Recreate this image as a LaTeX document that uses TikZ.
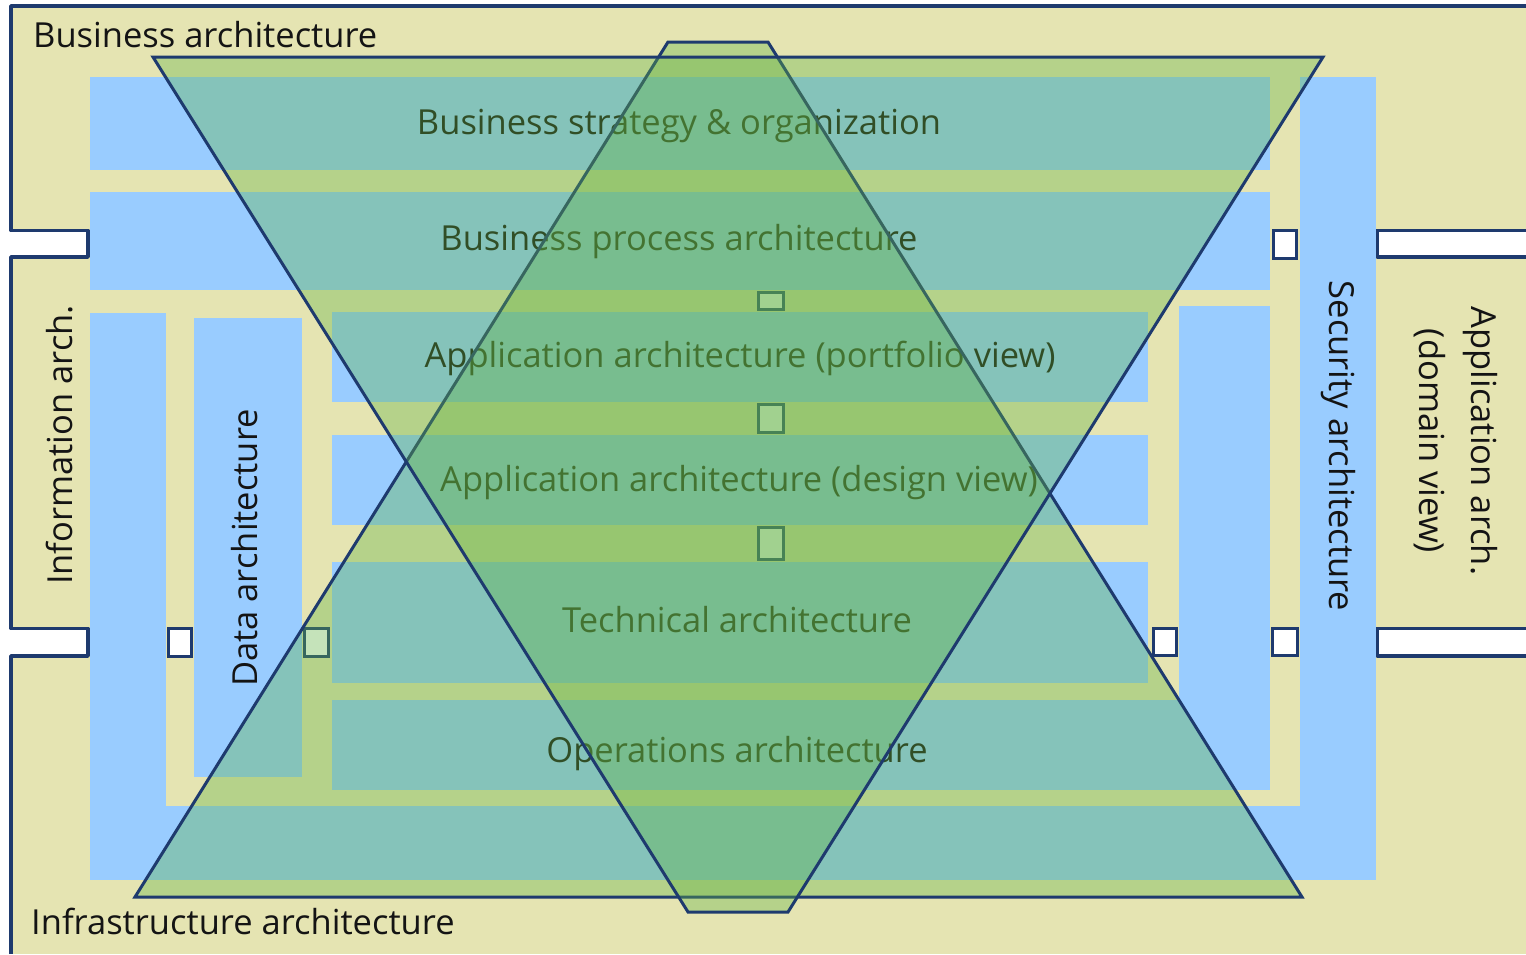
\documentclass[tikz,border=0pt]{standalone}
\usepackage{fontspec}
\setmainfont{Open Sans}
\usetikzlibrary{positioning}

\definecolor{beige}{RGB}{229,228,178}
\definecolor{skyblue}{RGB}{153,204,255}
\definecolor{navy}{RGB}{30,58,110}
\definecolor{leaf}{RGB}{100,180,70}
\definecolor{ink}{RGB}{20,20,20}

\tikzset{
	lbl/.style={font=\fontsize{34.5}{52}\selectfont, text=ink, inner sep=0pt},
	area/.style={fill=skyblue},
	frame/.style={draw=navy, line width=3.5pt, line join=round},
	port/.style={draw=navy, fill=white, line width=3pt},
	funnel/.style={draw=navy, line width=3pt, line join=miter, fill=leaf, fill opacity=0.37}
}

\begin{document}
\begin{tikzpicture}[x=1pt, y=-1pt]
		\useasboundingbox (0,0) rectangle (1526,954);
		\fill[white] (0,0) rectangle (1526,954);
		\fill[beige] (11,6) rectangle (1526,954);
		\fill[white] (0,230.5) rectangle (88,257);
		\fill[white] (0,628.5) rectangle (88,656);
		\fill[white] (1377,230.5) rectangle (1526,257);
		\fill[white] (1377,628.5) rectangle (1526,656);
		\draw[frame] (11,954) -- (11,656) -- (88,656) -- (88,628.5) -- (11,628.5) -- (11,257) -- (88,257) -- (88,230.5) -- (11,230.5) -- (11,6) -- (1526,6);
		\draw[frame] (1526,230.5) -- (1377,230.5) -- (1377,257) -- (1526,257);
		\draw[frame] (1526,628.5) -- (1377,628.5) -- (1377,656) -- (1526,656);

		\fill[area] (90,77) rectangle (1270,170);
		\fill[area] (90,192) rectangle (1270,290);
		\fill[area] (90,313) rectangle (166,880);
		\fill[area] (90,806) rectangle (1376,880);
		\fill[area] (1300,77) rectangle (1376,880);
		\fill[area] (194,318) rectangle (302,777);
		\fill[area] (1179,306) rectangle (1270,790);
		\fill[area] (332,312) rectangle (1148,402);
		\fill[area] (332,435) rectangle (1148,525);
		\fill[area] (332,562) rectangle (1148,683);
		\fill[area] (332,700) rectangle (1270,790);

		\draw[port] (168.5,628.5) rectangle (191.5,656.5);
		\draw[port] (304.5,628.5) rectangle (328.5,656.5);
		\draw[port] (1153.5,628.5) rectangle (1176.5,655.5);
		\draw[port] (1272.5,628.5) rectangle (1297.5,655.5);
		\draw[port] (1273.5,230.5) rectangle (1296.5,258.5);
		\draw[port] (758.5,292.5) rectangle (783.5,309.5);
		\draw[port] (758.5,404.5) rectangle (783.5,432.5);
		\draw[port] (758.5,527.5) rectangle (783.5,559.5);

		\node[lbl, anchor=base west] (busarch) at (33,47) {Business architecture};
		\node[lbl, anchor=base west] (infra) at (31,934) {Infrastructure architecture};
		\node[lbl, anchor=base] (strat) at (679,134) {Business strategy \& organization};
		\node[lbl, anchor=base] (proc) at (679,250) {Business process architecture};
		\node[lbl, anchor=base] (portf) at (740,367) {Application architecture (portfolio view)};
		\node[lbl, anchor=base] (design) at (739,491) {Application architecture (design view)};
		\node[lbl, anchor=base] (tech) at (737,632) {Technical architecture};
		\node[lbl, anchor=base] (ops) at (737,762) {Operations architecture};
		\node[lbl, rotate=90] (info) at (60,445) {Information arch.};
		\node[lbl, rotate=90] (data) at (245,548) {Data architecture};
		\node[lbl, rotate=-90] (secur) at (1338,446) {Security architecture};
		\node[lbl, rotate=-90, align=center] (appdom) at (1456,441) {Application arch.\\(domain view)};

		\draw[funnel] (135,897) -- (1302,897) -- (768,42) -- (668,42) -- cycle;
		\draw[funnel] (153,57) -- (1323,57) -- (788,912) -- (688,912) -- cycle;
\end{tikzpicture}
\end{document}
